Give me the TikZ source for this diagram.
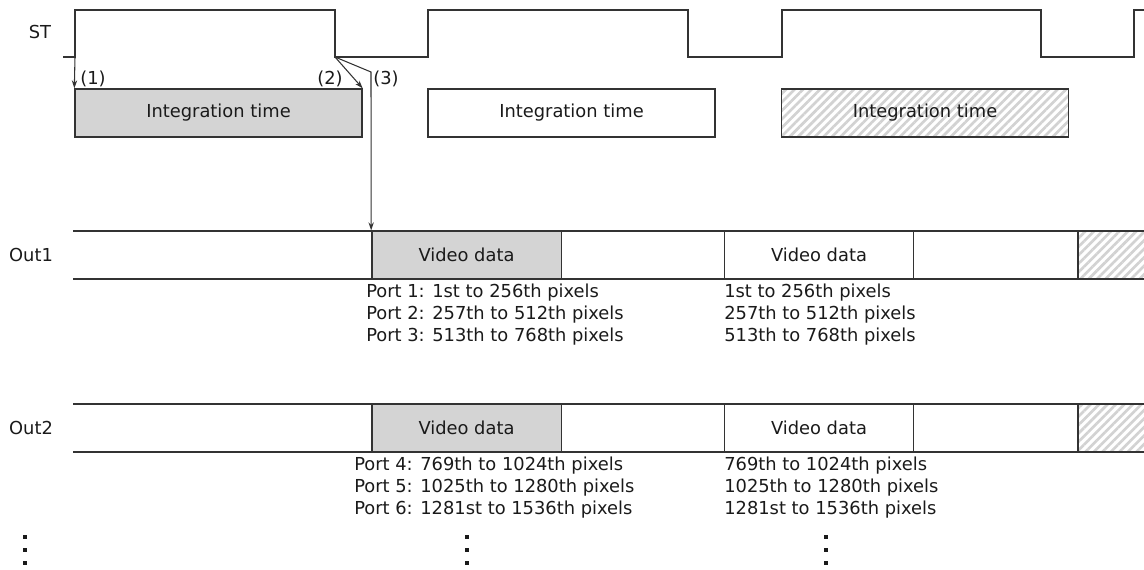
\documentclass[tikz,border=0pt]{standalone}
\usepackage{fontspec}
\setmainfont{DejaVu Sans}
\usetikzlibrary{arrows.meta,patterns.meta}
\definecolor{ln}{HTML}{333333}
\definecolor{tx}{HTML}{1A1A1A}
\definecolor{gfill}{HTML}{D4D4D4}
\definecolor{hatch}{HTML}{D2D2D2}
\begin{document}
\begin{tikzpicture}[x=0.75pt,y=-0.75pt,
  every node/.style={text=tx,font=\fontsize{13.4}{16}\selectfont},
  wire/.style={draw=ln,line width=1pt},
  arr/.style={draw=ln,line width=0.8pt,-{Stealth[length=6pt,width=4pt]}},
  intbox/.style={draw=ln,line width=1pt,minimum width=215.25pt,minimum height=36pt,inner sep=0pt},
  vidbox/.style={draw=ln,line width=1pt,minimum width=142pt,minimum height=36pt,inner sep=0pt},
  hatched/.style={pattern={Lines[angle=45,distance=4.5pt,line width=2pt]},pattern color=hatch},
  porttext/.style={anchor=west,inner sep=0pt,align=left,font=\fontsize{13.4}{16.5}\selectfont},
  dot/.style={fill=tx,minimum size=2.4pt,inner sep=0pt,outer sep=0pt,rectangle}]
\useasboundingbox (0,0) rectangle (1144,570);

% ST waveform
\node (stlabel) at (40,32) {ST};
\coordinate (st1) at (75,57);
\coordinate (st2) at (335,57);
\draw[wire] (63,57) -- (st1) -- (75,10) -- (335,10) -- (st2) -- (428,57) -- (428,10)
  -- (688,10) -- (688,57) -- (782,57) -- (782,10) -- (1041,10) -- (1041,57)
  -- (1134,57) -- (1134,10) -- (1146,10);

% Integration time boxes
\node[intbox,fill=gfill] (int1) at (218.5,113) {Integration time};
\node[intbox] (int2) at (571.5,113) {Integration time};
\node[intbox,hatched] (int3) at (925,113) {Integration time};

% edge labels
\node (l1) at (93,79) {(1)};
\node (l2) at (330,79) {(2)};
\node (l3) at (386,79) {(3)};

% Out rows
\node (out1) at (31,255) {Out1};
\node (out2) at (31,428) {Out2};

\node[vidbox,fill=gfill] (vd1) at (466.5,255) {Video data};
\node[vidbox] (vd2) at (819,255) {Video data};
\node[vidbox,fill=gfill] (vd3) at (466.5,428) {Video data};
\node[vidbox] (vd4) at (819,428) {Video data};

\fill[hatched] (1078,231) rectangle (1144,279);
\fill[hatched] (1078,404) rectangle (1144,452);
\draw[wire] (73,231) -- (1146,231);
\draw[wire] (73,279) -- (1146,279);
\draw[wire] (1078,231) -- (1078,279);
\draw[wire] (73,404) -- (1146,404);
\draw[wire] (73,452) -- (1146,452);
\draw[wire] (1078,404) -- (1078,452);

% arrows
\draw[arr] (st1) -- (int1.north west);
\draw[arr] (st2) -- (int1.north east);
\coordinate (bend) at (371,72);
\draw[arr] (st2) -- (bend) -- (vd1.north west);

% port texts
\node[porttext,anchor=north west] (p1) at (366,284) {Port 1: 1st to 256th pixels\\Port 2: 257th to 512th pixels\\Port 3: 513th to 768th pixels};
\node[porttext,anchor=north west] (p2) at (724,284) {1st to 256th pixels\\257th to 512th pixels\\513th to 768th pixels};
\node[porttext,anchor=north west] (p3) at (354,457) {Port 4: 769th to 1024th pixels\\Port 5: 1025th to 1280th pixels\\Port 6: 1281st to 1536th pixels};
\node[porttext,anchor=north west] (p4) at (724,457) {769th to 1024th pixels\\1025th to 1280th pixels\\1281st to 1536th pixels};

% vertical ellipses
\foreach \x/\n in {25/da,467/db,826/dc}{
  \node[dot] (\n1) at (\x,537) {};
  \node[dot] (\n2) at (\x,550) {};
  \node[dot] (\n3) at (\x,563) {};
}
\end{tikzpicture}
\end{document}
